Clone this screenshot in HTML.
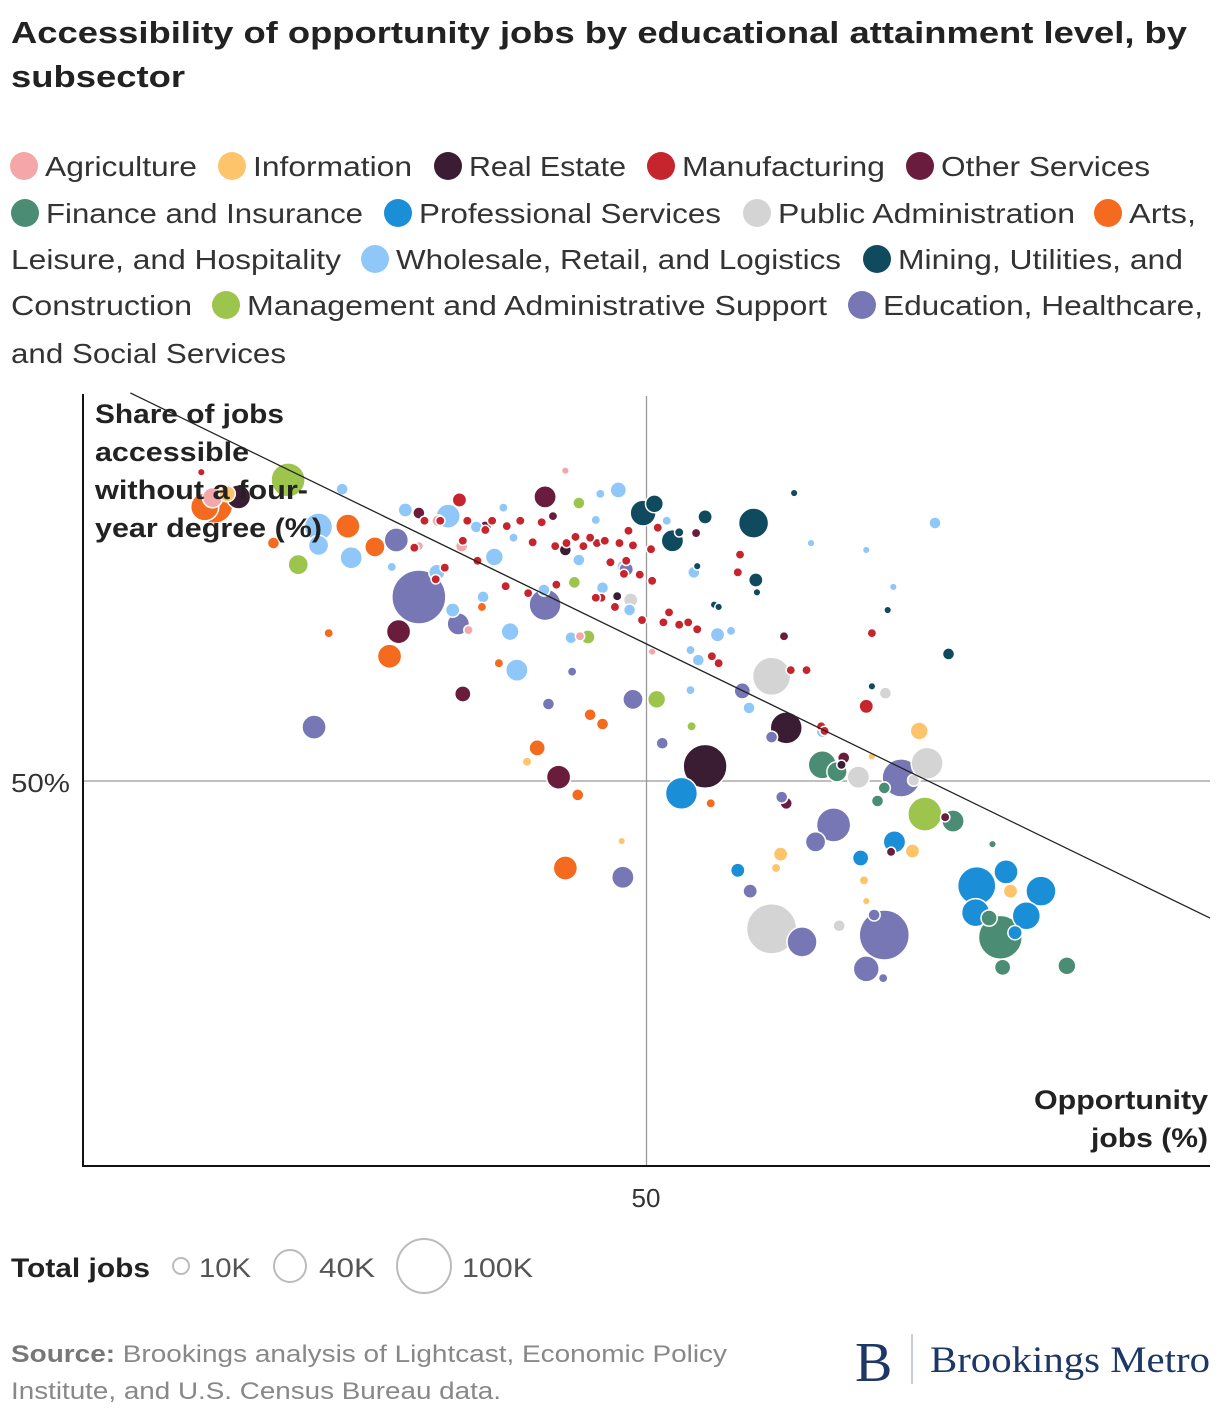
<!DOCTYPE html>
<html><head><meta charset="utf-8"><style>
html,body{margin:0;padding:0;background:#fff;width:1220px;height:1418px;overflow:hidden}
svg{display:block;font-family:"Liberation Sans",sans-serif}
</style></head><body>
<svg id="chart" width="1220" height="1418" viewBox="0 0 1220 1418">
<text x="11" y="43" font-size="31" font-weight="bold" fill="#222" textLength="1176" lengthAdjust="spacingAndGlyphs">Accessibility of opportunity jobs by educational attainment level, by</text>
<text x="11" y="87" font-size="31" font-weight="bold" fill="#222" textLength="174" lengthAdjust="spacingAndGlyphs">subsector</text>
<g id="legend" font-size="28" fill="#333"></g>
<g id="plot"></g>
<g font-size="27" font-weight="bold" fill="#222">
<text x="95" y="423" textLength="189" lengthAdjust="spacingAndGlyphs">Share of jobs</text>
<text x="95" y="461" textLength="154" lengthAdjust="spacingAndGlyphs">accessible</text>
<text x="95" y="499" textLength="213" lengthAdjust="spacingAndGlyphs">without a four-</text>
<text x="95" y="537" textLength="227" lengthAdjust="spacingAndGlyphs">year degree (%)</text>
</g>
<g font-size="27" font-weight="bold" fill="#222">
<text x="1034" y="1109" textLength="174" lengthAdjust="spacingAndGlyphs">Opportunity</text>
<text x="1091" y="1147" textLength="117" lengthAdjust="spacingAndGlyphs">jobs (%)</text>
</g>
<text x="11" y="792" font-size="26" fill="#333" textLength="59" lengthAdjust="spacingAndGlyphs">50%</text>
<text x="646" y="1207" font-size="26" fill="#333" text-anchor="middle">50</text>
<g>
<text x="11" y="1277" font-size="27" font-weight="bold" fill="#222" textLength="139" lengthAdjust="spacingAndGlyphs">Total jobs</text>
<circle cx="181" cy="1266" r="8" fill="none" stroke="#bbb" stroke-width="2"/>
<text x="199" y="1277" font-size="27" fill="#555" textLength="52" lengthAdjust="spacingAndGlyphs">10K</text>
<circle cx="290" cy="1266" r="16" fill="none" stroke="#bbb" stroke-width="2"/>
<text x="319" y="1277" font-size="27" fill="#555" textLength="56" lengthAdjust="spacingAndGlyphs">40K</text>
<circle cx="424" cy="1266" r="27" fill="none" stroke="#bbb" stroke-width="2"/>
<text x="462" y="1277" font-size="27" fill="#555" textLength="71" lengthAdjust="spacingAndGlyphs">100K</text>
</g>
<g font-size="24" fill="#888">
<text x="11" y="1362" textLength="716" lengthAdjust="spacingAndGlyphs"><tspan font-weight="bold" fill="#777">Source:</tspan> Brookings analysis of Lightcast, Economic Policy</text>
<text x="11" y="1399" textLength="490" lengthAdjust="spacingAndGlyphs">Institute, and U.S. Census Bureau data.</text>
</g>
<g>
<text x="855" y="1381" font-family="Liberation Serif,serif" font-size="56" fill="#1d3866">B</text>
<line x1="912" y1="1334" x2="912" y2="1384" stroke="#c8cbd8" stroke-width="2"/>
<text x="930" y="1372" font-family="Liberation Serif,serif" font-size="37" fill="#1d3866" textLength="280" lengthAdjust="spacingAndGlyphs">Brookings Metro</text>
</g>
</svg>
<script>
const categories=["Agriculture","Information","Real Estate","Manufacturing","Other Services","Finance and Insurance","Professional Services","Public Administration","Arts, Leisure, and Hospitality","Wholesale, Retail, and Logistics","Mining, Utilities, and Construction","Management and Administrative Support","Education, Healthcare, and Social Services"];
const colors=["#f4a7a8","#fdc46b","#3a1d33","#c6252d","#6a1c3d","#4a8c74","#1a8fd8","#d4d4d4","#f46a1e","#8fc8f8","#0f4a5e","#9dc44c","#7777b6"];
// [x opportunity %, y share %, total jobs K]
const agriculture=[[42.8,90.3,2],[31.5,83.8,5],[33.6,80.5,5],[29.8,80.5,3],[50.5,66.8,2],[34.2,69.6,3],[44.1,68.8,3],[11.5,86.8,14]];
const information=[[74.2,56.5,11],[73.6,40.9,7],[82.3,35.7,7],[61.9,40.5,7],[61.5,38.7,3],[69.3,37.1,3],[69.5,34.4,2],[39.4,52.5,3],[47.8,42.2,2],[70,53.2,2],[12.8,87.3,9]];
const realEstate=[[13.8,86.9,20],[55.2,51.9,66],[62.4,56.9,35],[42.8,80,5],[47.4,74,3],[67.3,52.1,3]];
const manufacturing=[[30.3,83.8,3],[31.7,83.8,3],[34.1,83.8,3],[36.3,83.8,3],[37.6,83.1,3],[38.8,83.8,3],[40.7,83.6,3],[41.9,80.5,3],[42.9,80.9,3],[43.7,81.7,3],[44.4,80.5,3],[45.6,80.9,3],[46.3,81.2,3],[47.6,80.9,3],[48.8,80.6,3],[46.8,78.4,3],[48.2,78.6,3],[49.4,76.8,3],[50.5,76,3],[46,73.8,3],[47.2,72.6,3],[37.5,75.3,3],[39.5,74.4,3],[42,75.5,3],[35,78.6,3],[32.1,77.7,3],[31.3,76.2,3],[33.7,81.2,3],[52,71.9,3],[52.9,70.3,3],[53.7,70.6,3],[54.5,69.7,3],[51.5,70.6,3],[48,76.9,3],[49.6,70.9,3],[50.4,80.1,3],[51,82.9,3],[39.9,81,3],[35.7,82.6,3],[29.4,80.3,3],[48.4,82.5,3],[45,81.6,3],[58.3,79.4,3],[58.1,77.1,3],[62.8,64.4,3],[64.2,64.4,3],[65.5,57.1,3],[65.8,56.5,3],[55.8,66.2,3],[56.4,65.3,3],[10.5,90.1,2],[33.4,86.5,7],[69.5,59.7,7],[70,69.2,3],[45.5,73.8,3]];
const otherServices=[[28,69.4,20],[41,86.9,17],[33.7,61.3,9],[42.2,50.5,20],[29.8,84.8,5],[35.7,83,5],[62.2,68.8,3],[62.4,47.1,5],[67.5,53,5],[71.7,40.8,3],[76.5,45.3,3],[54.4,82.2,3],[41.7,84.4,3]];
const finance=[[65.6,52.1,27],[66.9,51.2,14],[81.4,29.7,66],[87.3,26,11],[81.6,25.8,9],[77.2,44.8,17],[70.5,47.4,5],[80.7,41.8,2],[71.1,49.1,5],[80.4,32.2,9]];
const professional=[[53.1,48.4,35],[79.3,36.4,50],[79.2,32.9,27],[81.9,38.2,20],[85,35.7,31],[83.7,32.5,27],[72,42.1,17],[69,40,9],[58.1,38.4,7],[82.7,30.3,7]];
const publicAdmin=[[61.1,30.8,86],[61.1,63.6,50],[74.9,52.3,35],[68.8,50.5,17],[71.2,61.4,5],[67.1,31.2,5],[48.6,73.5,7],[73.7,50.1,5]];
const arts=[[11.7,85.8,44],[10.8,85.6,27],[23.5,83.1,20],[25.9,80.4,14],[16.9,80.9,5],[21.8,69.2,3],[27.2,66.2,20],[40.3,54.3,9],[42.8,38.7,20],[43.9,48.2,5],[45,58.6,5],[46.1,57.4,5],[36.9,65.3,3],[35.4,72.6,3],[55.7,47.1,3]];
const wholesale=[[20.9,83,27],[20.9,80.6,14],[23.8,79,17],[23,87.9,5],[32.4,84.4,20],[28.6,85.2,7],[31.4,77.1,9],[36.5,79.1,11],[35.5,73.9,5],[37.9,69.4,11],[38.5,64.4,17],[47.5,87.8,9],[45.9,87.3,3],[46.1,75.1,5],[43.3,68.6,5],[53.9,67,3],[56.3,69,7],[57.5,69.5,3],[59.1,59.5,5],[75.6,83.5,5],[69.5,80,2],[64.6,80.9,2],[71.9,75.2,2],[54.2,77.1,5],[51.8,83.8,3],[32.8,72.2,7],[27.4,77.8,3],[37.3,85.5,3],[38.2,81.6,3],[34.9,83,5],[65.6,56.4,5],[54.6,65.7,5],[48.1,77.8,9],[53.9,61.8,3],[45.5,83.9,3],[44,78.7,5],[40.9,74.8,5],[48.5,72.2,5]];
const mining=[[59.5,83.5,31],[49.7,84.8,23],[50.7,86,11],[52.3,81.2,17],[55.2,84.3,7],[59.7,76.1,7],[76.8,66.5,5],[63.1,87.4,2],[71.4,72.2,2],[56,72.9,2],[52.9,82.3,3],[54.5,77.9,2],[70,62.3,2],[59.8,74.5,2],[56.4,72.6,2]];
const management=[[18.2,89.1,40],[19.1,78.1,14],[50.9,60.6,11],[44.8,68.7,7],[74.7,45.7,40],[44,86.1,5],[43.6,75.8,5],[54,57.1,3]];
const education=[[27.8,81.3,20],[29.8,73.9,100],[33.3,70.4,17],[20.5,57,20],[41,72.9,35],[48.8,60.6,14],[41.3,60,5],[43.4,64.2,3],[51.4,54.9,5],[58.5,61.7,9],[61.1,55.7,5],[62,47.9,5],[66.6,44.3,40],[65,42.1,14],[72.6,50.4,50],[71.1,30,86],[69.5,25.6,23],[63.8,29.1,31],[47.9,37.5,17],[59.2,35.7,7],[71,24.4,3],[70.2,32.6,5],[48.2,77.5,7]];
const seriesData=[agriculture,information,realEstate,manufacturing,otherServices,finance,professional,publicAdmin,arts,wholesale,mining,management,education];
const trendX=[4.2,100];
const trendY=[100.4,32.2];

const NS="http://www.w3.org/2000/svg";
const X0=83,X1=1210,Y0=1166,Y1=396;
const xScale=v=>X0+(v/100)*(X1-X0);
const yScale=v=>Y0-(v/100)*(Y0-Y1);
const rScale=k=>27*Math.sqrt(k/100);
function mk(t,a){const e=document.createElementNS(NS,t);for(const k in a)e.setAttribute(k,a[k]);return e;}
const plot=document.getElementById('plot');
const gx=mk('line',{x1:xScale(50),x2:xScale(50),y1:Y1,y2:Y0,stroke:'#999','stroke-width':1.3});


plot.appendChild(gx);
const gy=mk('line',{x1:X0,x2:X1,y1:yScale(50),y2:yScale(50),stroke:'#999','stroke-width':1.3});


plot.appendChild(gy);
const all=[];
seriesData.forEach((arr,ci)=>arr.forEach(p=>all.push({x:p[0],y:p[1],s:p[2],c:ci})));
all.sort((a,b)=>b.s-a.s);
all.forEach(d=>{
  const c=mk('circle',{cx:xScale(d.x),cy:yScale(d.y),r:Math.max(3.5,rScale(d.s)),fill:colors[d.c],stroke:'#fff','stroke-width':1.5});
  
  
  plot.appendChild(c);
});
const tl=mk('line',{x1:xScale(trendX[0]),y1:yScale(trendY[0]),x2:xScale(trendX[1]),y2:yScale(trendY[1]),stroke:'#222','stroke-width':1.3});


plot.appendChild(tl);
const ax=mk('path',{d:`M${X0} ${Y1-2}V${Y0}H${X1}`,fill:'none',stroke:'#111','stroke-width':2});


plot.appendChild(ax);
const leg=document.getElementById('legend');
const legendItems=[
 [0,24,166,"Agriculture",152],[1,232,166,"Information",159],[2,448,166,"Real Estate",157],[3,661,166,"Manufacturing",203],[4,920,166,"Other Services",209],
 [5,25,213,"Finance and Insurance",317],[6,398,213,"Professional Services",302],[7,757,213,"Public Administration",297],[8,1108,213,"Arts,",67],
 [-1,-10,259,"Leisure, and Hospitality",330],[9,375,259,"Wholesale, Retail, and Logistics",445],[10,877,259,"Mining, Utilities, and",285],
 [-1,-10,305,"Construction",181],[11,226,305,"Management and Administrative Support",580],[12,862,305,"Education, Healthcare,",320],
 [-1,-10,353,"and Social Services",275]];
legendItems.forEach(it=>{
  const [ci,cx,cy,label,w]=it;
  if(ci>=0){
    const d=mk('circle',{cx:cx,cy:cy,r:14,fill:colors[ci]});
    
    
    leg.appendChild(d);
  }
  const t=mk('text',{x:ci>=0?cx+21:11,y:cy+10,textLength:w,lengthAdjust:'spacingAndGlyphs'});
  t.textContent=label;
  
  
  leg.appendChild(t);
});
</script>
</body></html>
